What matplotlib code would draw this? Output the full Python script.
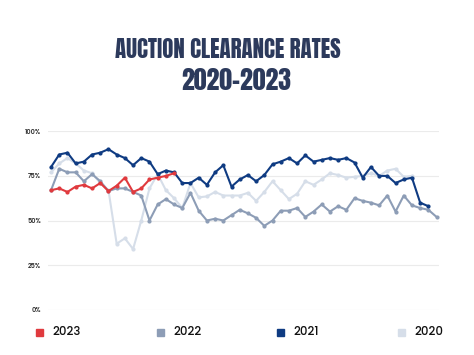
import matplotlib.pyplot as plt
from matplotlib.patches import Rectangle

##DATA##########################################################################
rate_2020 = [77, 82, 85, 82, 78, 76.5, 71, 67, 37, 40, 34, 50, 68, 76, 67, 62.5,
             57, 71, 63, 63.5, 66, 64, 64, 64, 65.5, 61, 66, 72, 67, 62, 65, 72,
             70, 73, 76.5, 75.5, 74, 74.5, 75, 76.5, 75, 78, 79, 74.5, 75]
rate_2021 = [80, 87, 88, 82, 83, 87, 88, 90, 87, 85, 81, 85, 83, 76, 78, 77,
             71, 71, 74, 70, 77, 81, 69, 73, 75.5, 72, 75.5, 81.5, 83, 85, 82,
             86.5, 83, 84, 85, 84, 85, 82.5, 74, 80, 75, 75, 71, 73, 74, 60, 58]
rate_2022 = [67, 79, 77, 77, 72, 76, 72, 66.5, 68, 68, 66, 64, 50, 59, 62, 59,
             57, 65.5, 55.5, 50, 51, 50, 53, 56, 54, 51.5, 47, 50, 55.5, 55.5, 57,
             52, 55, 59, 55, 58, 56, 62.5, 61, 60, 58.5, 64, 55, 64, 58.5, 57, 56, 52]
rate_2023 = [67, 68, 66, 69, 70, 68, 71, 66.5, 69.5, 74, 66, 68, 73, 74, 75, 76.5]

years = ['2023', '2022', '2021', '2020']
colors = {'2023': '#e03a3e', '2022': '#8d9db6', '2021': '#0f3b82', '2020': '#d6dee9'}
y_ticks = [0, 25, 50, 75, 100]
################################################################################

series = {'2020': rate_2020, '2022': rate_2022, '2021': rate_2021, '2023': rate_2023}
body_font = ['Poppins', 'Noto Sans', 'DejaVu Sans']
title_font = ['Anton', 'DejaVu Sans']

fig = plt.figure(figsize=(4.74, 3.55), dpi=100)
ax = fig.add_axes([0.1013, 0.1276, 0.8249, 0.5025])

for yr in ['2020', '2022', '2021', '2023']:
    vals = series[yr]
    ax.plot(range(len(vals)), vals, color=colors[yr], linewidth=1.5,
            marker='o', markersize=2.0, clip_on=False)

ax.set_xlim(-0.37, 47.3)
ax.set_ylim(0, 100)
ax.set_yticks(y_ticks)
ax.set_yticklabels(['%d%%' % t for t in y_ticks], fontsize=4.6, color='#333333',
                   fontweight='semibold', family=body_font)
ax.set_xticks([])
ax.tick_params(axis='y', length=0, pad=5)
ax.grid(axis='y', color='#ebebeb', linewidth=0.8)
ax.set_axisbelow(True)
for s in ax.spines.values():
    s.set_visible(False)

fig.text(227.5 / 474, 1 - 50 / 355, 'AUCTION CLEARANCE RATES', fontsize=16.5,
         color='#2c3a5c', ha='center', va='center', family=title_font)
fig.text(236.5 / 474, 1 - 80.5 / 355, '2020-2023', fontsize=18.5,
         color='#2c3a5c', ha='center', va='center', family=title_font)

# legend along the bottom
leg_x = [36, 157, 277, 398]
for x, yr in zip(leg_x, years):
    fig.patches.append(Rectangle((x / 474, 1 - 336 / 355), 7 / 474, 7 / 355,
                                 transform=fig.transFigure, color=colors[yr]))
    fig.text((x + 16) / 474, 1 - 332 / 355, yr, fontsize=8.5, color='#111111',
             va='center', family=body_font, fontweight='medium')

fig.savefig('out.png', dpi=100)
